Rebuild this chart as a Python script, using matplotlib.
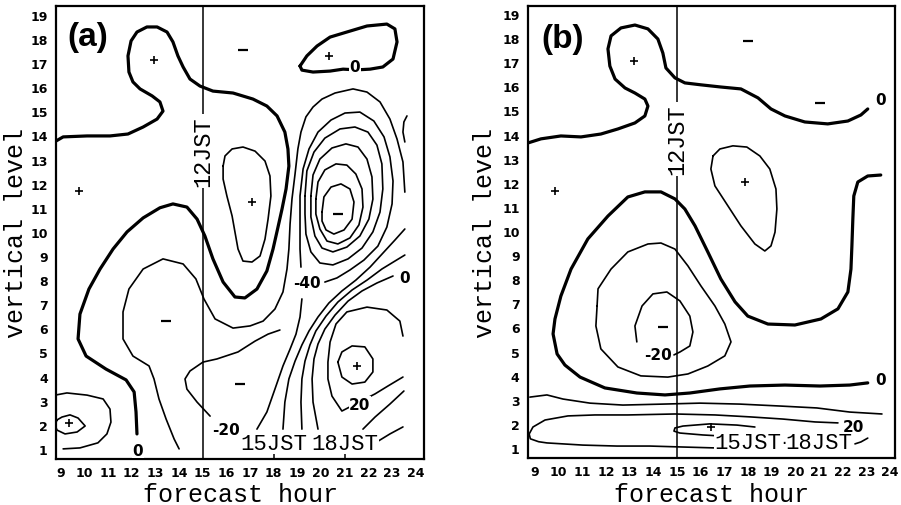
import matplotlib.pyplot as plt

plt.rcParams['font.family'] = ['DejaVu Sans']

hours = list(range(9, 25))
levels = list(range(1, 20))
jst_hours = [15, 18, 21]
jst_names = ['12JST', '15JST', '18JST']

# ---------------- panel (a): contour lines as (forecast hour, level) ----------------
# thick zero line
a_zero_h = [8.80, 9.10, 10.11, 11.08, 11.84, 12.48, 13.07, 13.32, 13.19, 12.86,
            12.35, 12.05, 11.88, 11.84, 11.97, 12.22, 12.64, 13.07, 13.49, 13.74,
            13.95, 14.17, 14.46, 14.88, 15.43, 16.28, 17.12, 17.71, 18.14, 18.47,
            18.60, 18.64, 18.52, 18.35, 18.18, 17.97, 17.71, 17.29, 16.78, 16.36,
            15.86, 15.43, 15.09, 14.76, 14.33, 13.74, 13.19, 12.48, 11.80, 11.21,
            10.66, 10.19, 9.81, 9.73, 10.07, 10.91, 11.76, 12.10, 12.18, 12.22]
a_zero_lv = [13.77, 13.94, 13.98, 13.98, 14.06, 14.35, 14.68, 15.01, 15.39, 15.64,
             15.93, 16.22, 16.63, 17.30, 17.92, 18.29, 18.50, 18.50, 18.29, 17.88,
             17.30, 16.84, 16.34, 16.05, 15.84, 15.76, 15.51, 15.22, 14.81, 14.14,
             13.44, 12.73, 11.78, 10.95, 10.20, 9.29, 8.38, 7.63, 7.26, 7.30,
             7.92, 8.88, 9.83, 10.53, 11.03, 11.16, 11.00, 10.58, 10.00, 9.29,
             8.46, 7.63, 6.59, 5.56, 4.85, 4.31, 3.86, 3.36, 2.53, 1.62]
# thick closed zero line, top right
a_top_h = [19.11, 19.40, 19.83, 20.38, 21.09, 21.94, 22.78, 23.12, 23.21, 23.04,
           22.61, 22.07, 21.50, 20.93, 20.38, 19.66, 19.19, 19.11]
a_top_lv = [16.88, 17.30, 17.71, 18.08, 18.29, 18.54, 18.62, 18.42, 17.88, 17.17,
            16.84, 16.75, 16.72, 16.75, 16.67, 16.63, 16.71, 16.88]
# thin lines
a_pos_h = [15.86, 15.94, 16.24, 16.70, 17.21, 17.63, 17.84, 17.88, 17.76, 17.63,
           17.42, 17.08, 16.70, 16.49, 16.36, 16.24, 16.02, 15.86, 15.86]
a_pos_lv = [12.73, 13.15, 13.44, 13.52, 13.35, 12.94, 12.32, 11.49, 10.53, 9.70,
            9.00, 8.75, 8.79, 9.29, 10.00, 10.66, 11.49, 12.19, 12.73]
a_m20_h = [14.00, 13.79, 13.45, 13.15, 12.94, 12.73, 12.05, 11.63, 11.63, 11.88,
           12.48, 13.32, 14.17, 14.71, 15.05, 15.52, 16.28, 17.00, 17.55, 18.05,
           18.39, 18.56, 18.64, 18.69, 18.77, 18.90, 19.02, 19.15, 19.36, 19.66,
           20.04, 20.59, 21.35, 21.94, 22.49, 22.91, 23.21, 23.46, 23.54]
a_m20_lv = [1.00, 1.41, 2.24, 3.07, 3.90, 4.44, 4.85, 5.56, 6.68, 7.63,
            8.46, 8.88, 8.67, 8.05, 7.22, 6.39, 6.01, 6.10, 6.30, 6.80,
            7.51, 8.46, 9.29, 10.33, 11.36, 12.40, 13.44, 14.14, 14.77, 15.18,
            15.51, 15.76, 15.93, 15.80, 15.39, 14.68, 13.85, 12.90, 11.65]
a_m40_h = [20.16, 20.67, 21.22, 21.81, 22.40, 22.78, 23.00, 23.04, 22.91, 22.66,
           22.23, 21.64, 21.01, 20.42, 19.87, 19.49, 19.24, 19.11, 19.11, 19.11, 19.15]
a_m40_lv = [7.92, 8.09, 8.42, 8.83, 9.41, 10.20, 11.16, 12.11, 13.11, 13.94,
            14.60, 14.97, 14.93, 14.64, 14.14, 13.44, 12.61, 11.49, 10.33, 9.29, 8.54]
a_m60_h = [19.32, 19.40, 19.70, 20.16, 20.80, 21.43, 21.98, 22.36, 22.57, 22.61,
           22.49, 22.19, 21.73, 21.14, 20.50, 19.95, 19.57, 19.36, 19.32, 19.32]
a_m60_lv = [11.49, 12.53, 13.31, 13.89, 14.27, 14.35, 14.14, 13.60, 12.82, 11.78,
            10.82, 10.00, 9.33, 8.88, 8.63, 8.71, 9.17, 9.91, 10.74, 11.49]
a_m80_h = [19.57, 19.66, 19.95, 20.46, 21.05, 21.56, 21.94, 22.15, 22.19, 22.02,
           21.64, 21.09, 20.50, 20.04, 19.74, 19.57, 19.57]
a_m80_lv = [11.49, 12.36, 13.02, 13.48, 13.65, 13.52, 13.02, 12.28, 11.36, 10.53,
            9.83, 9.37, 9.17, 9.33, 9.83, 10.62, 11.49]
a_m100_h = [19.78, 19.87, 20.16, 20.63, 21.09, 21.47, 21.73, 21.77, 21.60, 21.22,
            20.71, 20.25, 19.95, 19.78, 19.78]
a_m100_lv = [11.36, 12.07, 12.57, 12.82, 12.77, 12.40, 11.78, 11.03, 10.29, 9.75,
             9.50, 9.62, 10.12, 10.74, 11.36]
a_m120_h = [20.04, 20.12, 20.42, 20.84, 21.22, 21.39, 21.31, 20.97, 20.54, 20.21, 20.04, 20.04]
a_m120_lv = [10.82, 11.45, 11.86, 11.99, 11.78, 11.24, 10.53, 10.08, 9.91, 10.08, 10.45, 10.82]
a_fan1_h = [17.29, 17.71, 18.05, 18.39, 18.69, 18.94, 19.11, 19.19]
a_fan1_lv = [1.82, 2.53, 3.48, 4.44, 5.14, 5.76, 6.47, 7.22]
a_fan2_h = [18.39, 18.47, 18.64, 18.90, 19.19, 19.49, 19.87, 20.33, 20.88, 21.47,
            22.07, 22.66, 23.12, 23.54]
a_fan2_lv = [1.82, 2.94, 3.90, 4.64, 5.31, 5.89, 6.47, 7.05, 7.55, 8.00,
             8.54, 9.17, 9.66, 10.12]
a_fan3_h = [19.19, 19.15, 19.19, 19.32, 19.53, 19.78, 20.21, 20.71, 21.31, 21.94,
            22.57, 23.12, 23.54]
a_fan3_lv = [1.82, 2.94, 3.90, 4.64, 5.31, 5.89, 6.51, 7.09, 7.59, 8.00,
             8.46, 8.79, 9.04]
a_fan4_h = [19.87, 19.66, 19.62, 19.70, 19.87, 20.16, 20.59, 21.14, 21.73, 22.36, 23.04]
a_fan4_lv = [1.82, 2.94, 3.90, 4.73, 5.35, 5.97, 6.55, 7.13, 7.55, 7.88, 8.17]
a_p20_h = [23.46, 23.33, 22.78, 21.94, 21.09, 20.63, 20.38, 20.29, 20.29, 20.46,
           20.88, 22.28, 22.83, 23.46]
a_p20_lv = [5.68, 6.30, 6.76, 6.88, 6.68, 6.18, 5.43, 4.60, 3.90, 3.19,
            2.57, 3.28, 3.61, 3.98]
a_p40_h = [20.71, 20.88, 21.31, 21.85, 22.19, 22.19, 21.85, 21.31, 20.88, 20.71]
a_p40_lv = [4.60, 5.02, 5.27, 5.23, 4.73, 4.19, 3.77, 3.69, 3.98, 4.60]
a_low1_h = [21.77, 22.28, 22.91, 23.50]
a_low1_lv = [1.82, 2.32, 2.86, 3.40]
a_low2_h = [22.36, 22.91, 23.46]
a_low2_lv = [1.29, 1.62, 1.91]
a_dip_h = [15.31, 14.76, 14.33, 14.25, 14.46, 15.01, 15.60, 16.49, 17.21, 17.76, 18.26]
a_dip_lv = [2.36, 2.94, 3.48, 3.90, 4.23, 4.60, 4.73, 5.02, 5.47, 5.76, 5.93]
a_stub_h = [23.63, 23.50, 23.46, 23.54]
a_stub_lv = [14.81, 14.56, 14.14, 13.73]
a_small_h = [8.84, 9.05, 9.39, 9.73, 10.03, 9.69, 9.18, 8.84, 8.76, 8.84]
a_small_lv = [2.20, 2.32, 2.41, 2.28, 1.95, 1.70, 1.62, 1.78, 1.99, 2.20]
a_corner_h = [8.76, 9.26, 10.11, 10.79, 11.08, 11.12, 10.95, 10.57, 9.81, 9.10]
a_corner_lv = [3.23, 3.32, 3.23, 3.07, 2.65, 2.11, 1.62, 1.25, 1.04, 1.00]

a_lab_txt = ['0', '-20', '-40', '0', '20', '0']
a_lab_h = [12.26, 15.98, 19.40, 23.54, 21.64, 21.43]
a_lab_lv = [0.95, 1.82, 7.92, 8.09, 2.86, 16.84]
a_plus_h = [12.94, 9.77, 17.08, 20.33, 21.52, 9.35]
a_plus_lv = [17.13, 11.70, 11.24, 17.30, 4.44, 2.07]
a_minus_h = [16.70, 20.71, 13.45, 16.57]
a_minus_lv = [17.54, 10.74, 6.30, 3.69]

# ---------------- panel (b) ----------------
b_top_h = [8.70, 9.25, 10.09, 10.94, 11.78, 12.50, 13.22, 13.64, 13.77, 13.64,
           13.22, 12.80, 12.38, 12.16, 12.08, 12.21, 12.63, 13.22, 13.77, 14.19,
           14.40, 14.53, 14.91, 15.33, 16.01, 16.85, 17.70, 18.42, 18.97, 19.56,
           20.40, 21.37, 22.22, 22.77, 23.06]
b_top_lv = [13.65, 13.82, 13.94, 13.90, 14.02, 14.23, 14.48, 14.77, 15.18, 15.47,
            15.72, 15.93, 16.30, 16.84, 17.55, 18.09, 18.42, 18.54, 18.38, 17.96,
            17.38, 16.76, 16.35, 16.14, 16.06, 15.97, 15.89, 15.52, 15.06, 14.77,
            14.52, 14.44, 14.56, 14.81, 15.06]
b_zero_h = [23.61, 23.06, 22.64, 22.47, 22.43, 22.39, 22.35, 22.22, 21.80, 21.08,
            19.98, 18.84, 17.99, 17.45, 16.85, 16.30, 15.76, 15.33, 14.91, 14.32,
            13.64, 12.92, 12.08, 11.23, 10.52, 10.09, 9.84, 9.76, 9.93, 10.26,
            10.90, 11.95, 13.30, 14.49, 15.54, 16.81, 18.08, 19.56, 21.04, 22.30, 23.06]
b_zero_lv = [12.32, 12.28, 12.03, 11.45, 10.50, 9.38, 8.42, 7.47, 6.77, 6.35,
             6.10, 6.14, 6.47, 7.06, 8.01, 9.13, 10.21, 10.91, 11.33, 11.62,
             11.62, 11.41, 10.62, 9.67, 8.42, 7.30, 6.35, 5.73, 4.90, 4.44,
             3.94, 3.49, 3.28, 3.20, 3.28, 3.45, 3.57, 3.61, 3.57, 3.61, 3.70]
b_pos_h = [16.52, 16.81, 17.36, 17.95, 18.50, 18.92, 19.18, 19.22, 19.14, 18.97,
           18.71, 18.29, 17.70, 17.15, 16.60, 16.43, 16.52]
b_pos_lv = [13.11, 13.40, 13.53, 13.48, 13.11, 12.57, 11.74, 10.91, 9.95, 9.38,
            9.17, 9.46, 10.21, 11.04, 11.87, 12.57, 13.11]
b_m20_h = [11.62, 11.66, 12.21, 12.92, 13.77, 14.32, 14.91, 15.46, 16.01, 16.60,
           17.02, 17.28, 17.02, 16.30, 15.46, 14.61, 13.47, 12.50, 11.78, 11.57, 11.62]
b_m20_lv = [6.89, 7.60, 8.42, 9.13, 9.46, 9.50, 9.25, 8.55, 7.72, 6.89,
            6.14, 5.40, 4.82, 4.40, 4.07, 3.94, 3.99, 4.36, 5.11, 6.06, 6.89]
b_m40_h = [13.30, 13.22, 13.52, 13.98, 14.57, 15.12, 15.54, 15.67, 15.54, 15.12, 14.87]
b_m40_lv = [5.40, 6.06, 6.89, 7.39, 7.47, 7.10, 6.47, 5.81, 5.23, 4.98, 4.86]
b_low_h = [8.78, 9.50, 10.18, 11.32, 12.71, 14.40, 15.97, 17.66, 19.35, 20.91, 22.30, 23.66]
b_low_lv = [3.11, 3.20, 3.03, 2.86, 2.78, 2.82, 2.86, 2.82, 2.74, 2.66, 2.49, 2.41]
b_p20_h = [21.80, 20.83, 19.47, 18.08, 16.60, 14.91, 12.92, 11.53, 10.39, 9.42,
           8.91, 8.75, 8.80, 9.15, 9.50, 11.02, 12.46, 13.85, 15.25, 16.69]
b_p20_lv = [2.04, 2.08, 2.20, 2.29, 2.37, 2.41, 2.37, 2.37, 2.33, 2.16,
            1.87, 1.58, 1.38, 1.26, 1.21, 1.12, 1.08, 1.08, 1.04, 1.00]
b_p40_h = [18.29, 17.53, 16.39, 15.25, 14.91, 14.87, 15.12, 16.09, 16.81]
b_p40_lv = [1.87, 1.95, 2.00, 1.91, 1.83, 1.70, 1.62, 1.54, 1.50]
b_end_h = [22.52, 22.77, 23.06]
b_end_lv = [1.17, 1.25, 1.41]

b_lab_txt = ['0', '0', '-20', '20']
b_lab_h = [23.61, 23.61, 14.19, 22.47]
b_lab_lv = [15.47, 3.86, 4.86, 1.91]
b_plus_h = [13.18, 9.84, 17.87, 16.43]
b_plus_lv = [17.05, 11.66, 12.03, 1.87]
b_minus_h = [18.00, 21.04, 14.40]
b_minus_lv = [17.88, 15.31, 6.02]

panels = [
    dict(rect=[0.0622, 0.0909, 0.4084, 0.8953], xlim=(8.8, 24.35), ylim=(0.58, 19.37),
         letter='(a)', letter_pos=(0.087, 0.932), jst_lev=13.35, jst_text_lev=1.24,
         thick=[(a_zero_h, a_zero_lv), (a_top_h, a_top_lv)],
         thin=[(a_pos_h, a_pos_lv), (a_m20_h, a_m20_lv), (a_m40_h, a_m40_lv),
               (a_m60_h, a_m60_lv), (a_m80_h, a_m80_lv), (a_m100_h, a_m100_lv),
               (a_m120_h, a_m120_lv), (a_fan1_h, a_fan1_lv), (a_fan2_h, a_fan2_lv),
               (a_fan3_h, a_fan3_lv), (a_fan4_h, a_fan4_lv), (a_p20_h, a_p20_lv),
               (a_p40_h, a_p40_lv), (a_low1_h, a_low1_lv), (a_low2_h, a_low2_lv),
               (a_dip_h, a_dip_lv), (a_stub_h, a_stub_lv), (a_small_h, a_small_lv),
               (a_corner_h, a_corner_lv)],
         labels=(a_lab_txt, a_lab_h, a_lab_lv),
         plus=(a_plus_h, a_plus_lv), minus=(a_minus_h, a_minus_lv),
         ticks=True, ylab_x=-0.076, xlab_y=-0.051),
    dict(rect=[0.5860, 0.0929, 0.4073, 0.8933], xlim=(8.70, 24.21), ylim=(0.585, 19.33),
         letter='(b)', letter_pos=(0.095, 0.927), jst_lev=13.82, jst_text_lev=1.21,
         thick=[(b_top_h, b_top_lv), (b_zero_h, b_zero_lv)],
         thin=[(b_pos_h, b_pos_lv), (b_m20_h, b_m20_lv), (b_m40_h, b_m40_lv),
               (b_low_h, b_low_lv), (b_p20_h, b_p20_lv), (b_p40_h, b_p40_lv),
               (b_end_h, b_end_lv)],
         labels=(b_lab_txt, b_lab_h, b_lab_lv),
         plus=(b_plus_h, b_plus_lv), minus=(b_minus_h, b_minus_lv),
         ticks=False, ylab_x=-0.084, xlab_y=-0.053),
]

fig = plt.figure(figsize=(9.01, 5.06), dpi=100)
mono = 'Liberation Mono'
white = dict(facecolor='white', edgecolor='none', pad=0.4)

for p in panels:
    ax = fig.add_axes(p['rect'])
    ax.set_xlim(*p['xlim'])
    ax.set_ylim(*p['ylim'])

    for h, lv in p['thick']:
        ax.plot(h, lv, color='black', lw=2.3, solid_joinstyle='round', solid_capstyle='round')
    for h, lv in p['thin']:
        ax.plot(h, lv, color='black', lw=1.2, solid_joinstyle='round', solid_capstyle='round')

    ax.plot(*p['plus'], ls='none', marker='+', ms=5.5, mew=1.2, color='black')
    ax.plot(*p['minus'], ls='none', marker='_', ms=7, mew=1.6, color='black')

    for t, h, lv in zip(*p['labels']):
        ax.text(h, lv, t, ha='center', va='center', fontsize=11, fontweight='bold',
                bbox=white, zorder=4)

    # 12JST line and the 15JST / 18JST marks
    ax.axvline(jst_hours[0], color='black', lw=1.1, zorder=1)
    ax.text(jst_hours[0], p['jst_lev'], jst_names[0], rotation=90, ha='center', va='center',
            family=mono, fontsize=17, bbox=dict(facecolor='white', edgecolor='none', pad=1),
            zorder=4)
    for hr, name in zip(jst_hours[1:], jst_names[1:]):
        ax.text(hr, p['jst_text_lev'], name, ha='center', va='center', family=mono,
                fontsize=16, bbox=dict(facecolor='white', edgecolor='none', pad=0.5), zorder=4)
    if p['ticks']:
        ax.vlines(jst_hours[1:], p['ylim'][0], 0.88, color='black', lw=1.1)
    else:
        ax.text(sum(jst_hours[1:]) / 2, p['jst_text_lev'], '·', ha='center', va='center',
                fontsize=12, zorder=5)

    ax.text(*p['letter_pos'], p['letter'], transform=ax.transAxes, ha='center', va='center',
            family='Liberation Sans', fontsize=24, fontweight='bold')

    ax.set_xticks(hours)
    ax.set_yticks(levels)
    ax.tick_params(length=0, labelsize=9)
    ax.tick_params(axis='x', pad=5)
    ax.tick_params(axis='y', pad=6)
    for lab in ax.get_xticklabels() + ax.get_yticklabels():
        lab.set_fontweight('bold')

    ax.set_xlabel('forecast hour', family=mono, fontsize=18)
    ax.set_ylabel('vertical level', family=mono, fontsize=18)
    ax.xaxis.set_label_coords(0.5, p['xlab_y'])
    ax.yaxis.set_label_coords(p['ylab_x'], 0.5)
    for s in ax.spines.values():
        s.set_linewidth(1.6)

fig.savefig('out.png', dpi=100, facecolor='white')
